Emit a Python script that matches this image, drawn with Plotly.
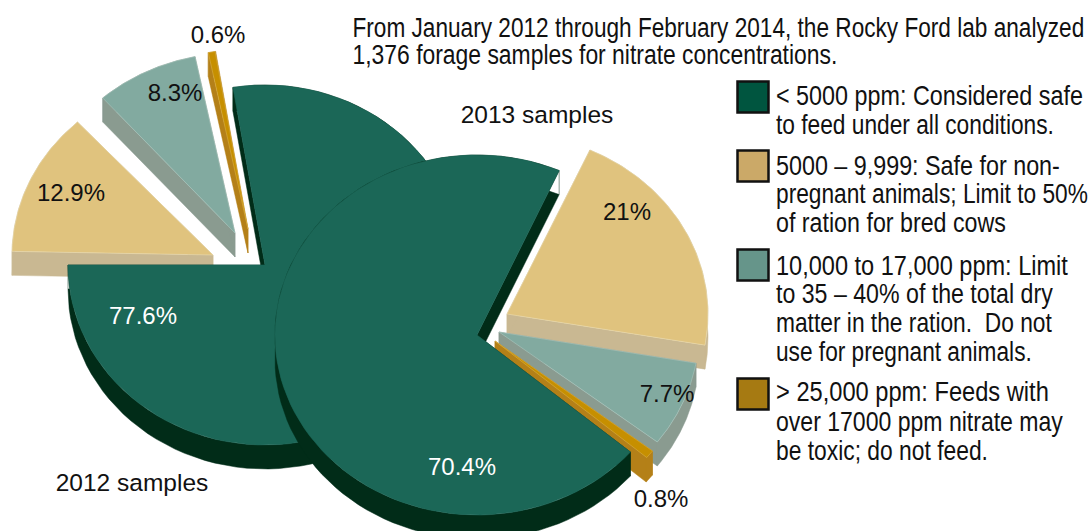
import json
import numpy as np
import plotly.graph_objects as go

# ---------- data ----------
CLASSES = ["< 5000 ppm", "5000-9,999", "10,000-17,000 ppm", "> 25,000 ppm"]
SHARE_2012 = [77.6, 12.9, 8.3, 0.6]
SHARE_2013 = [70.4, 21.0, 7.7, 0.8]
LABEL_2012 = ["77.6%", "12.9%", "8.3%", "0.6%"]
LABEL_2013 = ["70.4%", "21%", "7.7%", "0.8%"]
SAMPLE_TITLES = ["2012 samples", "2013 samples"]
INTRO_LINES = [
    "From January 2012 through February 2014, the Rocky Ford lab analyzed",
    "1,376 forage samples for nitrate concentrations.",
]
KEY_LINES = [
    ["< 5000 ppm: Considered safe", "to feed under all conditions."],
    ["5000 – 9,999: Safe for non-", "pregnant animals; Limit to 50%", "of ration for bred cows"],
    ["10,000 to 17,000 ppm: Limit", "to 35 – 40% of the total dry", "matter in the ration.  Do not", "use for pregnant animals."],
    ["> 25,000 ppm: Feeds with", "over 17000 ppm nitrate may", "be toxic; do not feed."],
]

# ---------- styles / layout (pixel-valued axes) ----------
W, H = 1091, 531
TOP = ["#1B6757", "#E0C37E", "#82AAA0", "#C68F00"]
WALL = ["#012C18", "#C9B892", "#8A9B90", "#B48018"]
EDGE = ["#1B6757", "#EBDBB0", "#A9C6BE", "#D9AE45"]
KEY_COL = ["#00553F", "#CBA968", "#66958A", "#A67A12"]
DEPTH = 24
RY = 180
RX_2012 = [197, 201, 200, 199]
RX_2013 = [202, 201, 200, 199]
APEX_2012 = [(265, 265), (213, 255), (235, 233), (248, 229)]
APEX_2013 = [(477, 335), (507, 314), (499, 332), (495, 341)]
START_2012, START_2013 = 180.0, 66.0
NUDGE_2012 = [0, 1, 0, 0]
NUDGE_2013 = [0, 0, 0, 0]
DRAW_ORDER = [1, 2, 3, 0]  # back to front
RUN_ORDER = [0, 3, 2, 1]   # counter-clockwise order round the pie
LABEL_POS_2012 = [(143, 318), (71, 195), (175, 95), (218, 37)]
LABEL_POS_2013 = [(462, 469), (627, 214), (667, 396), (661, 501)]
LABEL_COL = ["white", "#111111", "#111111", "#111111"]
TITLE_POS = [(132, 485), (537, 117)]
INTRO_X, KEY_X = 352.5, 776
INTRO_Y = [30, 57]
INTRO_WIDTH = [732, 485]
KEY_BOX_Y = [97, 166, 265, 394]
KEY_LINE_Y = [[98, 127], [168, 196, 225], [268, 296, 325, 354], [394, 424, 453]]
KEY_WIDTH = [[307, 278], [284, 312, 230], [292, 277, 276, 256], [273, 287, 212]]
HELV = "Liberation Sans, Arial, sans-serif"
BODY_SIZE = 27.5


def arc(cx, cy, rx, a0, a1, dy=0):
    t = np.radians(np.linspace(a0, a1, 90))
    return cx + rx * np.cos(t), cy + dy - RY * np.sin(t)


def add_pie(fig, shares, apexes, radii, start, nudges, name):
    spans = {}
    a = start
    for i in RUN_ORDER:
        spans[i] = (a + nudges[i], a + shares[i] * 3.6 + nudges[i])
        a += shares[i] * 3.6
    for i in DRAW_ORDER:
        cx, cy = apexes[i]
        a0, a1 = spans[i]
        ax, ay = arc(cx, cy, radii[i], a0, a1)
        bx, by = arc(cx, cy, radii[i], a0, a1, DEPTH)
        wx = list(ax) + list(bx[::-1]) + [None]
        wy = list(ay) + list(by[::-1]) + [None]
        for px, py in ((ax[0], ay[0]), (ax[-1], ay[-1])):
            wx += [cx, px, px, cx, cx, None]
            wy += [cy, py, py + DEPTH, cy + DEPTH, cy, None]
        fig.add_trace(go.Scatter(x=wx, y=wy, mode="lines", fill="toself",
                                 fillcolor=WALL[i], line=dict(color=WALL[i], width=0.5),
                                 hoverinfo="skip", name=f"{name} {CLASSES[i]} side"))
        fig.add_trace(go.Scatter(x=[cx] + list(ax) + [cx], y=[cy] + list(ay) + [cy],
                                 mode="lines", fill="toself", fillcolor=TOP[i],
                                 line=dict(color=EDGE[i], width=0.6),
                                 hoverinfo="skip", name=f"{name} {CLASSES[i]}"))


fig = go.Figure()
add_pie(fig, SHARE_2012, APEX_2012, RX_2012, START_2012, NUDGE_2012, "2012")
add_pie(fig, SHARE_2013, APEX_2013, RX_2013, START_2013, NUDGE_2013, "2013")

for labels, pos in ((LABEL_2012, LABEL_POS_2012), (LABEL_2013, LABEL_POS_2013)):
    fig.add_trace(go.Scatter(x=[p[0] for p in pos], y=[p[1] for p in pos], text=labels,
                             mode="text", textposition="middle center", hoverinfo="skip",
                             textfont=dict(family=HELV, size=24, color=LABEL_COL)))

fig.add_trace(go.Scatter(x=[p[0] for p in TITLE_POS], y=[p[1] for p in TITLE_POS], text=SAMPLE_TITLES,
                         mode="text", textposition="middle center", hoverinfo="skip",
                         textfont=dict(family=HELV, size=24.5, color="#111111")))

fig.add_trace(go.Scatter(x=[753] * 4, y=KEY_BOX_Y, mode="markers", hoverinfo="skip",
                         marker=dict(symbol="square", size=31, color=KEY_COL,
                                     line=dict(color="#111111", width=2.5))))

body_x, body_y, body_t, body_w = [], [], [], []
for line, y, w in zip(INTRO_LINES, INTRO_Y, INTRO_WIDTH):
    body_x.append(INTRO_X); body_y.append(y); body_t.append(line); body_w.append(w)
for lines, ys, ws in zip(KEY_LINES, KEY_LINE_Y, KEY_WIDTH):
    for line, y, w in zip(lines, ys, ws):
        body_x.append(KEY_X); body_y.append(y); body_w.append(w)
        body_t.append(line.replace("<", "&lt;").replace(">", "&gt;"))

fig.add_trace(go.Scatter(x=body_x, y=body_y, text=body_t, mode="text",
                         textposition="middle right", hoverinfo="skip",
                         textfont=dict(family=HELV, size=BODY_SIZE, color="#111111")))

fig.update_layout(
    width=W, height=H, margin=dict(l=0, r=0, t=0, b=0), showlegend=False,
    paper_bgcolor="white", plot_bgcolor="white",
    xaxis=dict(range=[0, W], visible=False, fixedrange=True),
    yaxis=dict(range=[H, 0], visible=False, fixedrange=True),
)
post = """
document.body.style.margin='0';document.body.style.overflow='hidden';
var widths=%s;
var layers=document.querySelectorAll('.scatterlayer .trace');
var body=layers[layers.length-1].querySelectorAll('.textpoint text');
body.forEach(function(t,i){
  var n=t.getComputedTextLength();
  var x=parseFloat(t.getAttribute('x'));
  var old=t.getAttribute('transform')||'';
  t.setAttribute('transform', old+' translate('+x+',0) scale('+(widths[i]/n)+',1) translate('+(-x)+',0)');
});
""" % json.dumps(body_w)
fig.write_html("out.html", config=dict(displayModeBar=False), post_script=post)
